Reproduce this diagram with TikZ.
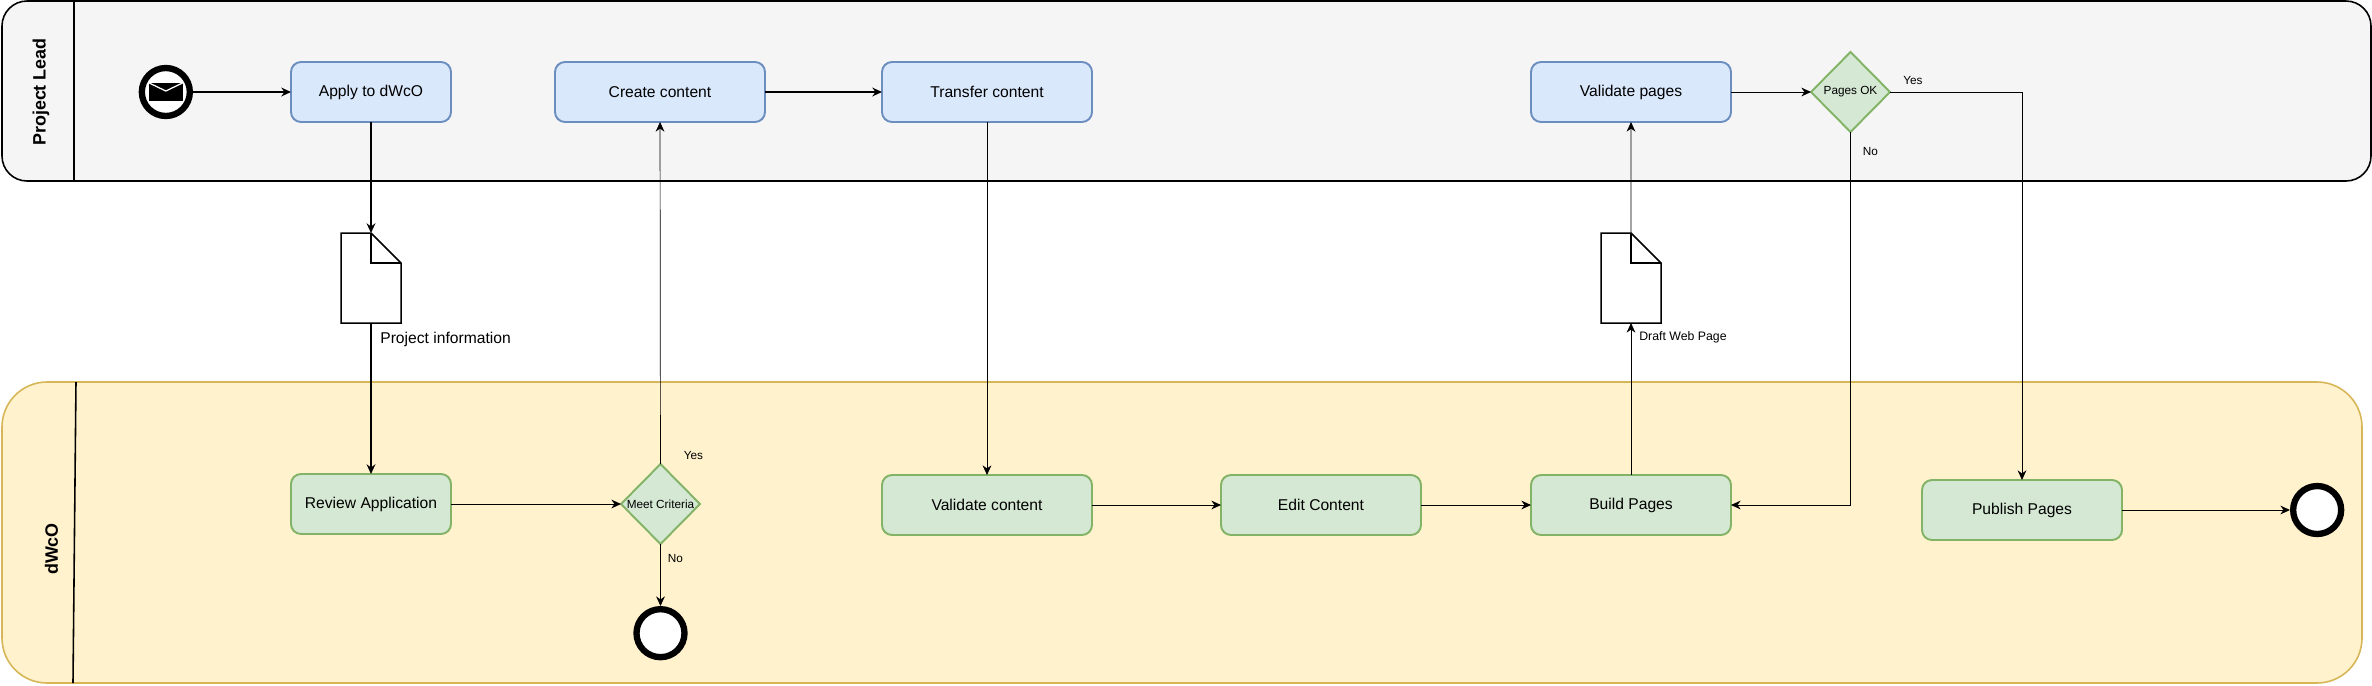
\documentclass[tikz,border=0pt]{standalone}
\usepackage{fontspec}
\setmainfont{Liberation Sans}
\usetikzlibrary{positioning,arrows.meta,shapes.geometric,calc}
\definecolor{leadfill}{HTML}{F5F5F5}
\definecolor{laneyellow}{HTML}{FFF2CC}
\definecolor{laneedge}{HTML}{D6B656}
\definecolor{bluefill}{HTML}{DAE8FC}
\definecolor{blueedge}{HTML}{6C8EBF}
\definecolor{greenfill}{HTML}{D5E8D4}
\definecolor{greenedge}{HTML}{82B366}
\tikzset{
  lane/.style={draw,rectangle,inner sep=0pt,outer sep=0pt},
  lanetitle/.style={rotate=90,font=\fontsize{10.2}{12}\selectfont\bfseries},
  task/.style={rectangle,rounded corners=0.2cm,line width=1.1pt,minimum height=1.2cm,
    inner sep=0pt,outer sep=0pt,font=\fontsize{8.9}{11}\selectfont},
  bluetask/.style={task,draw=blueedge,fill=bluefill},
  greentask/.style={task,draw=greenedge,fill=greenfill},
  decision/.style={diamond,draw=greenedge,fill=greenfill,line width=1.1pt,aspect=1,inner sep=-3pt,
    outer sep=0pt,minimum width=1.58cm,minimum height=1.6cm,font=\fontsize{6.7}{8}\selectfont},
  event/.style={circle,draw,fill=white,line width=3.6pt,minimum size=0.96cm,inner sep=0pt,outer sep=1.8pt},
  paper/.style={rectangle,minimum width=1.2cm,minimum height=1.8cm,inner sep=0pt,outer sep=0pt},
  flow/.style={->,line width=0.55pt},
  thinflow/.style={->,line width=0.4pt},
  heavyflow/.style={->,line width=0.95pt},
  smalltext/.style={font=\fontsize{6.7}{8}\selectfont,inner sep=0pt}
}
\begin{document}
\begin{tikzpicture}[>={Stealth[length=5.5pt,width=5pt]}]
  \useasboundingbox (0,0) rectangle (47.44,-13.7);
  % swimlanes
  \node (leadlane) [lane,fill=leadfill,line width=0.9pt,rounded corners=0.5cm,minimum width=47.38cm,
    minimum height=3.6cm,anchor=north west] at (0.04,-0.02) {};
  \node (dwcolane) [lane,draw=laneedge,fill=laneyellow,line width=0.9pt,rounded corners=0.9cm,
    minimum width=47.2cm,minimum height=6.02cm,anchor=north west] at (0.04,-7.64) {};
  \coordinate (leadtop) at ($(leadlane.north west)+(1.44,0)$);
  \coordinate (dwcotop) at ($(dwcolane.north west)+(1.48,0)$);
  \coordinate (dwcobot) at ($(dwcolane.south west)+(1.42,0)$);
  \draw[line width=0.9pt] (leadtop) -- (leadtop |- leadlane.south);
  \draw[line width=0.9pt] (dwcotop) -- (dwcobot);
  \node (leadtitle) [lanetitle] at (0.82,-1.84) {Project Lead};
  \node (dwcotitle) [lanetitle] at (1.03,-10.98) {dWcO};

  % top row
  \node (apply) [bluetask,minimum width=3.2cm] at (7.42,-1.84) {Apply to dWcO};
  \node (start) [event,left=1.96cm of apply] {};
  \node (mail) [rectangle,fill=black,minimum width=0.68cm,minimum height=0.36cm,inner sep=0pt] at (start) {};
  \draw[white,line width=0.7pt] (mail.north west) -- ($(mail.center)+(0,0.02)$) -- (mail.north east);
  \node (create) [bluetask,minimum width=4.2cm,right=2.08cm of apply] {Create content};
  \node (transfer) [bluetask,minimum width=4.2cm,right=2.34cm of create] {Transfer content};
  \node (validate) [bluetask,minimum width=4cm,right=8.78cm of transfer] {Validate pages};
  \node (pagesok) [decision,right=1.6cm of validate] {Pages OK};

  % bottom row
  \node (review) [greentask,minimum width=3.2cm,below=7.04cm of apply] {Review Application};
  \node (meet) [decision,right=3.4cm of review] {Meet Criteria};
  \node (endno) [event,below=1.24cm of meet] {};
  \node (valcontent) [greentask,minimum width=4.2cm,below=7.06cm of transfer] {Validate content};
  \node (edit) [greentask,minimum width=4cm,right=2.58cm of valcontent] {Edit Content};
  \node (build) [greentask,minimum width=4cm,right=2.2cm of edit] {Build Pages};
  \node (publish) [greentask,minimum width=4cm,right=3.82cm of build,yshift=-0.1cm] {Publish Pages};
  \node (endyes) [event,right=3.36cm of publish] {};

  % documents
  \node (doca) [paper,below=2.22cm of apply] {};
  \node (docb) [paper,above=3.04cm of build] {};
  \foreach \d in {doca,docb} {
    \draw[fill=white,line width=0.85pt] (\d.north west) -- (\d.north)
      -- ($(\d.north east)+(0,-0.6)$) -- (\d.south east) -- (\d.south west) -- cycle;
    \draw[line width=0.85pt] (\d.north) -- ($(\d.north)+(0,-0.6)$) -- ($(\d.north east)+(0,-0.6)$);
  }
  \node (docalabel) [font=\fontsize{8.9}{11}\selectfont,inner sep=0pt,anchor=west] at ($(doca.south)+(0.18,-0.32)$) {Project information};
  \node (docblabel) [font=\fontsize{7}{8}\selectfont,inner sep=0pt,anchor=west] at ($(docb.south)+(0.16,-0.28)$) {Draft Web Page};

  % connectors
  \draw[heavyflow] (start) -- (apply);
  \draw[heavyflow] (apply) -- (doca);
  \draw[heavyflow] (doca) -- (review);
  \draw[heavyflow] (create) -- (transfer);
  \draw[thinflow] (transfer) -- (valcontent);
  \draw[flow] (review) -- (meet);
  \draw[thinflow] (meet) -- (create);
  \draw[thinflow] (meet) -- (endno);
  \draw[flow] (valcontent) -- (edit);
  \draw[flow] (edit) -- (build);
  \draw[thinflow] (build) -- (docb);
  \draw[thinflow] (docb) -- (validate);
  \draw[flow] (validate) -- (pagesok);
  \draw[flow] (pagesok.south) |- (build.east);
  \draw[flow] (pagesok.east) -| (publish.north);
  \draw[flow] (publish) -- (endyes);
  \node (meetyes) [smalltext] at ($(meet.north)+(0.66,0.18)$) {Yes};
  \node (meetno) [smalltext] at ($(meet.south)+(0.3,-0.28)$) {No};
  \node (pagesyes) [smalltext] at ($(pagesok.east)+(0.46,0.22)$) {Yes};
  \node (pagesno) [smalltext] at ($(pagesok.south)+(0.4,-0.38)$) {No};
\end{tikzpicture}
\end{document}
